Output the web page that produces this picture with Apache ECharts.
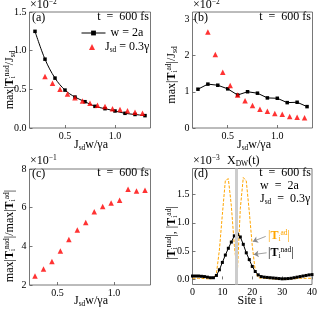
<!DOCTYPE html>
<html><head><meta charset="utf-8">
<script src="https://cdn.jsdelivr.net/npm/echarts@6/dist/echarts.min.js"></script>
<style>html,body{margin:0;padding:0;background:#fff}#c{width:320px;height:312px}</style>
</head><body><div id="c"></div>
<script>
// ---- data ----
const xBlack = [0.2,0.3,0.4,0.5,0.6,0.7,0.8,0.9,1.0,1.1,1.2,1.3];
const xRed = [0.3,0.375,0.45,0.525,0.6,0.675,0.75,0.825,0.9,0.975,1.05,1.125,1.2,1.275];
const aBlack = [1.25,0.89,0.645,0.49,0.40,0.34,0.28,0.25,0.22,0.19,0.175,0.16];
const aRed = [0.665,0.58,0.50,0.44,0.39,0.35,0.32,0.295,0.278,0.25,0.24,0.222,0.205,0.192];
const bBlack = [1.07,1.21,1.18,1.08,0.91,1.0,0.96,0.83,0.82,0.70,0.71,0.59];
const bRed = [2.65,2.03,1.54,1.17,0.91,0.75,0.62,0.52,0.46,0.40,0.38,0.32,0.30,0.28];
const cRed = [2.46,2.83,3.22,3.76,4.35,4.84,5.23,5.79,6.06,6.24,6.38,6.95,6.86,6.90];
const sites = [0,1,2,3,4,5,6,7,8,9,10,11,12,13,14,15,16,17,18,19,20,21,22,23,24,25,26,27,28,29,30,31,32,33,34,35,36,37,38,39,40];
const dNad = [0.06,0.06,0.06,0.055,0.05,0.04,0.03,0.03,0.07,0.17,0.30,0.43,0.55,0.66,0.77,0.80,0.75,0.62,0.47,0.35,0.23,0.14,0.08,0.05,0.04,0.035,0.03,0.025,0.02,0.015,0.01,0.012,0.015,0.02,0.03,0.04,0.05,0.06,0.07,0.08,0.085];
const dAd = [0.02,0.02,0.02,0.02,0.015,0.01,0.01,0.02,0.10,0.52,1.15,1.75,1.78,1.30,0.60,0.10,1.25,1.80,1.74,1.20,0.60,0.15,0.03,0.02,0.02,0.015,0.01,0.01,0.005,0.0,0.0,0.0,0.005,0.01,0.01,0.015,0.02,0.02,0.02,0.02,0.02];
const xDW = 14.6;
const abTicksX = [0.5, 1.0];
const aTicksY = [0, 0.5, 1.0, 1.5];
const bTicksY = [0, 1, 2, 3];
const cTicksY = [2, 4, 6, 8];
const dTicksY = [0, 0.5, 1.0, 1.5];

const pairs = (xs, ys) => xs.map((x, i) => [x, ys[i]]);
const F = 'Liberation Serif';
const rich = {
  n: {fontFamily: F, fontSize: 12, lineHeight: 14, fill: '#000', color: '#000'},
  b: {fontFamily: F, fontSize: 12, fontWeight: 'bold', lineHeight: 14, fill: '#000', color: '#000'},
  sup: {fontFamily: F, fontSize: 7.5, lineHeight: 8, verticalAlign: 'top', fill: '#000', color: '#000'},
  sub: {fontFamily: F, fontSize: 7.5, lineHeight: 8, verticalAlign: 'bottom', fill: '#000', color: '#000'},
  p: {width: 5}
};
function richColored(c) {
  const r = {};
  for (const k in rich) r[k] = Object.assign({}, rich[k], {fill: c, color: c});
  return r;
}
function txt(x, y, text, opts) {
  opts = opts || {};
  return {
    type: 'text', x: x, y: y, rotation: opts.rot || 0, z: 50,
    style: {
      text: text, rich: opts.color ? richColored(opts.color) : rich,
      fontFamily: F, fontSize: opts.fs || 12, fill: opts.color || '#000',
      align: opts.align || 'left', verticalAlign: 'middle'
    }
  };
}

const grids = [
  {left: 29.5, top: 12, width: 121, height: 116},
  {left: 192.5, top: 12, width: 120, height: 116},
  {left: 29.5, top: 169, width: 121, height: 116},
  {left: 192.5, top: 168.5, width: 120, height: 116}
].map(g => Object.assign(g, {show: true, borderColor: '#555', borderWidth: 0.8, backgroundColor: 'transparent'}));

function axis(gi, min, max, ticks, fmt, extra) {
  return Object.assign({
    type: 'value', gridIndex: gi, min: min, max: max,
    axisLine: {show: false},
    axisTick: {show: true, inside: true, length: 3, lineStyle: {color: '#555', width: 0.8}, customValues: ticks},
    axisLabel: {color: '#000', fontFamily: F, fontSize: 10, margin: 3, customValues: ticks, formatter: fmt},
    splitLine: {show: false}
  }, extra || {});
}
const f1 = v => v.toFixed(1);
const f0 = v => v.toFixed(0);

const option = {
  animation: false,
  grid: grids,
  xAxis: [
    axis(0, 0.145, 1.355, abTicksX, f1),
    axis(1, 0.145, 1.355, abTicksX, f1),
    axis(2, 0.251, 1.324, abTicksX, f1),
    axis(3, 0, 40, [0, 10, 20, 30, 40], f0)
  ],
  yAxis: [
    axis(0, 0, 1.5, aTicksY, f1),
    axis(1, 0, 3.2, bTicksY, f0),
    axis(2, 2, 8, cTicksY, f0),
    axis(3, -0.09, 1.96, dTicksY, f1)
  ],
  legend: [
    {
      orient: 'vertical', left: 76, top: 22, itemWidth: 24, itemHeight: 6, itemGap: 0,
      data: ['w = 2a'],
      lineStyle: {width: 1},
      textStyle: {fontFamily: F, fontSize: 12, color: '#000', rich: rich},
      formatter: () => '{n|w = 2a}'
    },
    {
      orient: 'vertical', left: 84, top: 36, itemWidth: 6, itemHeight: 6, itemGap: 0,
      data: ['Jsd'],
      textStyle: {fontFamily: F, fontSize: 12, color: '#000', rich: rich},
      formatter: () => '{p|}{n|J}{sub|sd}{n| = 0.3γ}'
    }
  ],
  series: [
    {name: 'w = 2a', type: 'line', xAxisIndex: 0, yAxisIndex: 0, data: pairs(xBlack, aBlack), smooth: 0.35,
      symbol: 'rect', symbolSize: 3.5, itemStyle: {color: '#000'}, lineStyle: {color: '#000', width: 1}, z: 3},
    {name: 'Jsd', type: 'scatter', xAxisIndex: 0, yAxisIndex: 0, data: pairs(xRed, aRed),
      symbol: 'triangle', symbolSize: 5.5, itemStyle: {color: '#ff0000'}, z: 4},
    {name: 'b_black', type: 'line', xAxisIndex: 1, yAxisIndex: 1, data: pairs(xBlack, bBlack),
      symbol: 'rect', symbolSize: 3.5, itemStyle: {color: '#000'}, lineStyle: {color: '#000', width: 1}, z: 3},
    {name: 'b_red', type: 'scatter', xAxisIndex: 1, yAxisIndex: 1, data: pairs(xRed, bRed),
      symbol: 'triangle', symbolSize: 5.5, itemStyle: {color: '#ff0000'}, z: 4},
    {name: 'c_red', type: 'scatter', xAxisIndex: 2, yAxisIndex: 2, data: pairs(xRed, cRed),
      symbol: 'triangle', symbolSize: 5.5, itemStyle: {color: '#ff0000'}, z: 4},
    {name: 'xdw', type: 'line', xAxisIndex: 3, yAxisIndex: 3, data: [], z: 1,
      markLine: {silent: true, symbol: ['none', 'none'], label: {show: false}, animation: false,
        lineStyle: {color: '#cccccc', width: 3, type: 'solid'}, data: [{xAxis: xDW}]}},
    {name: 'd_ad', type: 'line', xAxisIndex: 3, yAxisIndex: 3, data: pairs(sites, dAd), symbol: 'none',
      lineStyle: {color: '#ffa500', width: 1, type: [3, 1.5]}, z: 2},
    {name: 'd_nad', type: 'line', xAxisIndex: 3, yAxisIndex: 3, data: pairs(sites, dNad),
      symbol: 'rect', symbolSize: 3, itemStyle: {color: '#000'}, lineStyle: {color: '#000', width: 1}, z: 3},
    {name: 'arrows', type: 'line', xAxisIndex: 3, yAxisIndex: 3, data: [], z: 5,
      markLine: {silent: true, symbol: ['none', 'arrow'], symbolSize: 5, label: {show: false}, animation: false,
        lineStyle: {color: '#888', width: 0.8, type: 'solid'},
        data: [
          [{coord: [24.5, 0.76]}, {coord: [20.2, 0.67]}],
          [{coord: [24.8, 0.47]}, {coord: [20.5, 0.44]}]
        ]}}
  ],
  graphic: [
    // panel (a)
    txt(30, 5, '{n|×10}{sup|−2}'),
    txt(32, 18, '{n|(a)}'),
    txt(149, 17, '{n|t\u2002=\u2002600 fs}', {align: 'right'}),
    txt(10, 80, '{n|max|}{b|T}{sub|i}{sup|nad}{n|/J}{sub|sd}', {rot: Math.PI / 2, align: 'center'}),
    txt(91, 145, '{n|J}{sub|sd}{n|w/γa}', {align: 'center'}),
    // panel (b)
    txt(193, 5, '{n|×10}{sup|−2}'),
    txt(194, 18, '{n|(b)}'),
    txt(311, 17, '{n|t\u2002=\u2002600 fs}', {align: 'right'}),
    txt(172, 75, '{n|max|}{b|T}{sub|i}{sup|ad}{n||/J}{sub|sd}', {rot: Math.PI / 2, align: 'center'}),
    txt(254, 145, '{n|J}{sub|sd}{n|w/γa}', {align: 'center'}),
    // panel (c)
    txt(30, 161, '{n|×10}{sup|−1}'),
    txt(32, 174, '{n|(c)}'),
    txt(149, 173, '{n|t\u2002=\u2002600 fs}', {align: 'right'}),
    txt(10, 236, '{n|max|}{b|T}{sub|i}{sup|nad}{n||/max|}{b|T}{sub|i}{sup|ad}{n||}', {rot: Math.PI / 2, align: 'center'}),
    txt(91, 301, '{n|J}{sub|sd}{n|w/γa}', {align: 'center'}),
    // panel (d)
    txt(193, 161, '{n|×10}{sup|−3}'),
    txt(227, 161, '{n|X}{sub|DW}{n|(t)}'),
    txt(194, 174, '{n|(d)}'),
    txt(311, 173, '{n|t\u2002=\u2002600 fs}', {align: 'right'}),
    txt(260, 186, '{n|w\u2002=\u20022a}'),
    txt(260, 199, '{n|J}{sub|sd}{n|\u2002=\u20020.3γ}'),
    txt(268, 236, '{n||}{b|T}{sub|i}{sup|ad}{n||}', {color: '#ffa500'}),
    txt(268, 253, '{n||}{b|T}{sub|i}{sup|nad}{n||}'),
    txt(172, 233, '{n||}{b|T}{sub|i}{sup|nad}{n||, |}{b|T}{sub|i}{sup|ad}{n||}', {rot: Math.PI / 2, align: 'center'}),
    txt(250, 301, '{n|Site i}', {align: 'center'})
  ]
};
const chart = echarts.init(document.getElementById('c'), null, {renderer: 'canvas'});
chart.setOption(option);
</script>
</body></html>
